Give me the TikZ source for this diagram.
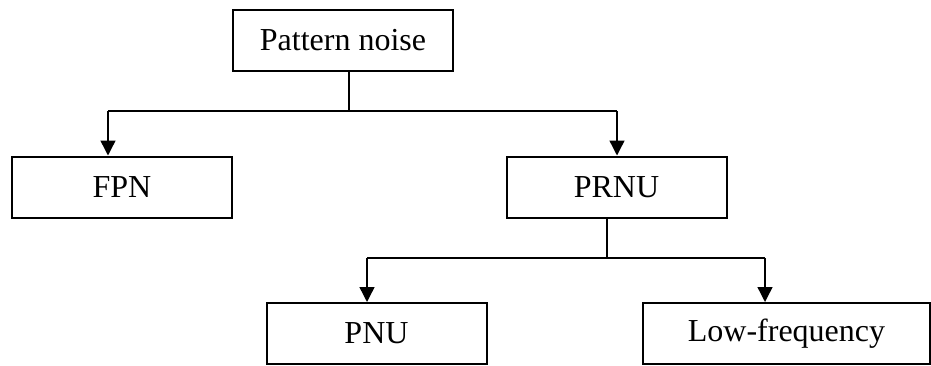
\documentclass[tikz,border=0pt]{standalone}
\usepackage{fontspec}
\setmainfont{Liberation Serif}
\usetikzlibrary{arrows.meta}

\tikzstyle{block}=[draw=black, line width=2pt, minimum width=220pt, minimum height=61pt, inner sep=0pt, font=\fontsize{32}{38}\selectfont]
\tikzstyle{link}=[line width=1.4pt, black]
\tikzstyle{down}=[link, -{Triangle[length=15pt,width=15pt]}]

\begin{document}
\begin{tikzpicture}[x=1pt, y=1pt]
					\useasboundingbox (0,0) rectangle (931,365);

					% Blocks of the noise tree
					\node[block] (noise) at (343,324.5) {Pattern noise};
					\node[block] (fpn) at (122,178) {FPN};
					\node[block] (prnu) at (616.5,178) {PRNU};
					\node[block] (pnu) at (376.5,31.5) {PNU};
					\node[block, minimum width=287pt] (lowfreq) at (786.5,31.5) {Low-frequency};

					% Branching from Pattern noise
					\coordinate (top) at (349,254);
					\coordinate (topL) at (108,254);
					\coordinate (topR) at (617,254);
					\draw[link] (noise.south -| top) -- (top);
					\draw[link] (topL) -- (topR);
					\draw[down] (topL) -- (topL |- fpn.north);
					\draw[down] (topR) -- (topR |- prnu.north);

					% Branching from PRNU
					\coordinate (mid) at (607,107);
					\coordinate (midL) at (367,107);
					\coordinate (midR) at (765,107);
					\draw[link] (prnu.south -| mid) -- (mid);
					\draw[link] (midL) -- (midR);
					\draw[down] (midL) -- (midL |- pnu.north);
					\draw[down] (midR) -- (midR |- lowfreq.north);
				\end{tikzpicture}
\end{document}
